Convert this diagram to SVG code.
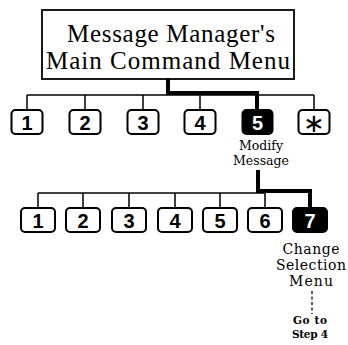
<svg xmlns="http://www.w3.org/2000/svg" width="348" height="345" viewBox="0 0 348 345">
<style>
.title{font-family:"Liberation Serif","Times New Roman",serif;font-size:25px;fill:#000;text-anchor:middle}
.lbl{font-family:"DejaVu Serif","Liberation Serif",serif;fill:#000;text-anchor:middle}
.key{fill:#fff;stroke:#000;stroke-width:2}
.keyon{fill:#000;stroke:#000;stroke-width:2}
.num{font-family:"Liberation Sans",Arial,sans-serif;font-weight:bold;font-size:20px;fill:#000;text-anchor:middle}
.numon{font-family:"Liberation Sans",Arial,sans-serif;font-weight:bold;font-size:20px;fill:#fff;text-anchor:middle}
.thin{fill:none;stroke:#000;stroke-width:1.5}
.thick{fill:none;stroke:#000;stroke-width:4}
</style>
<rect width="348" height="345" fill="#fff"/>
<g id="connectors">
<path class="thin" d="M27 95 H314 M27 95 V110 M85 95 V110 M143 95 V110 M200 95 V110 M314 95 V110"/>
<path class="thick" d="M168 79 V93 H257 V110"/>
<path class="thin" d="M38 193 H265 M38 193 V208 M83 193 V208 M129 193 V208 M175 193 V208 M220 193 V208 M265 193 V208"/>
<path class="thick" d="M258 170 V191 H310 V208"/>
<path fill="none" stroke="#000" stroke-width="1.3" stroke-dasharray="3,2.5" d="M312 291 V314"/>
</g>
<g id="main">
<rect x="42" y="10" width="252" height="69" fill="#fff" stroke="#000" stroke-width="1.8"/>
<text class="title" x="171" y="42" textLength="208" lengthAdjust="spacing">Message Manager's</text>
<text class="title" x="168" y="69" textLength="244" lengthAdjust="spacing">Main Command Menu</text>
</g>
<g id="m1"><rect class="key" x="11.5" y="110" width="31" height="24" rx="4"/><text class="num" x="27" y="129.5">1</text></g>
<g id="m2"><rect class="key" x="69.5" y="110" width="31" height="24" rx="4"/><text class="num" x="85" y="129.5">2</text></g>
<g id="m3"><rect class="key" x="127.5" y="110" width="31" height="24" rx="4"/><text class="num" x="143" y="129.5">3</text></g>
<g id="m4"><rect class="key" x="184.5" y="110" width="31" height="24" rx="4"/><text class="num" x="200" y="129.5">4</text></g>
<g id="m5"><rect class="keyon" x="242.5" y="110" width="30" height="24" rx="4"/><text class="numon" x="257.5" y="129.5">5</text>
<text class="lbl" font-size="12.5" x="261" y="149.5">Modify</text>
<text class="lbl" font-size="12.5" x="261" y="165">Message</text></g>
<g id="mstar"><rect class="key" x="298.5" y="110" width="31" height="24" rx="4"/><text font-family="DejaVu Sans,sans-serif" font-size="26" text-anchor="middle" x="314" y="132">∗</text></g>
<g id="s1"><rect class="key" x="21" y="208" width="34" height="24" rx="4"/><text class="num" x="38" y="227.5">1</text></g>
<g id="s2"><rect class="key" x="66" y="208" width="34" height="24" rx="4"/><text class="num" x="83" y="227.5">2</text></g>
<g id="s3"><rect class="key" x="112" y="208" width="34" height="24" rx="4"/><text class="num" x="129" y="227.5">3</text></g>
<g id="s4"><rect class="key" x="158" y="208" width="34" height="24" rx="4"/><text class="num" x="175" y="227.5">4</text></g>
<g id="s5"><rect class="key" x="203" y="208" width="34" height="24" rx="4"/><text class="num" x="220" y="227.5">5</text></g>
<g id="s6"><rect class="key" x="248" y="208" width="34" height="24" rx="4"/><text class="num" x="265" y="227.5">6</text></g>
<g id="s7"><rect class="keyon" x="293" y="208" width="34" height="24" rx="4"/><text class="numon" x="310" y="227.5">7</text>
<text class="lbl" font-size="14" x="311" y="254" textLength="57" lengthAdjust="spacing">Change</text>
<text class="lbl" font-size="14" x="311" y="270" textLength="70" lengthAdjust="spacing">Selection</text>
<text class="lbl" font-size="14" x="311" y="286" textLength="44" lengthAdjust="spacing">Menu</text></g>
<g id="goto">
<text class="lbl" font-size="10.5" font-weight="bold" x="310" y="324" textLength="34" lengthAdjust="spacing">Go to</text>
<text class="lbl" font-size="10.5" font-weight="bold" x="310" y="338" textLength="36" lengthAdjust="spacing">Step 4</text>
</g>
</svg>
